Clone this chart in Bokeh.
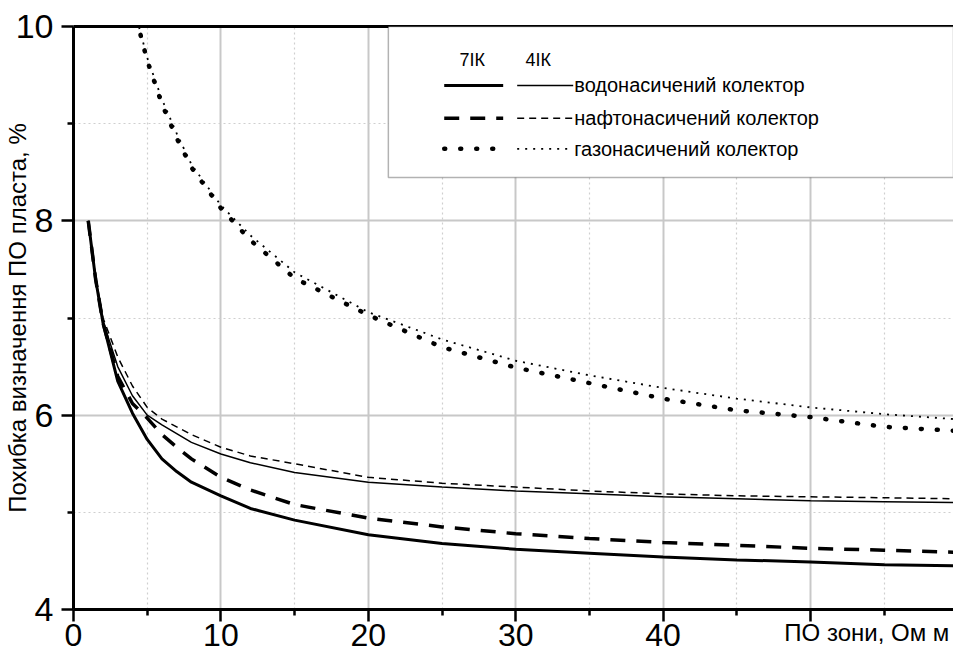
import math
from bokeh.plotting import figure
from bokeh.models import Range1d, FixedTicker, LinearAxis, BoxAnnotation, Label
from bokeh.embed import file_html
from bokeh.resources import INLINE

# ---- data ----
x_main = [1, 1.5, 2, 3, 4, 5, 6, 7, 8, 10, 12, 15, 20, 25, 30, 35, 40, 45, 50, 55, 59.7]
water_7ik = [8.0, 7.4, 6.95, 6.35, 6.02, 5.75, 5.55, 5.42, 5.31, 5.17, 5.04, 4.92, 4.77, 4.68, 4.62, 4.58, 4.54, 4.51, 4.49, 4.46, 4.45]
water_4ik = [8.0, 7.4, 6.97, 6.5, 6.2, 6.0, 5.9, 5.81, 5.72, 5.6, 5.51, 5.41, 5.31, 5.26, 5.22, 5.19, 5.16, 5.14, 5.12, 5.11, 5.10]
oil_7ik = [8.0, 7.4, 6.95, 6.4, 6.12, 5.97, 5.8, 5.67, 5.55, 5.36, 5.23, 5.08, 4.94, 4.85, 4.78, 4.73, 4.69, 4.66, 4.63, 4.61, 4.59]
oil_4ik = [8.0, 7.42, 7.0, 6.6, 6.3, 6.08, 5.96, 5.88, 5.8, 5.67, 5.58, 5.5, 5.36, 5.3, 5.26, 5.22, 5.19, 5.17, 5.16, 5.15, 5.14]
x_gas = [4.0, 4.4, 5, 6, 7, 8, 10, 12, 15, 20, 25, 30, 35, 40, 45, 50, 55, 59.7]
gas_7ik = [10.4, 10.0, 9.65, 9.2, 8.85, 8.55, 8.13, 7.8, 7.41, 7.03, 6.70, 6.49, 6.33, 6.17, 6.05, 5.98, 5.88, 5.84]
gas_4ik = [10.4, 10.02, 9.68, 9.25, 8.9, 8.58, 8.16, 7.85, 7.47, 7.06, 6.78, 6.56, 6.41, 6.28, 6.17, 6.08, 6.01, 5.96]

x_ticks = [0, 10, 20, 30, 40, 50]
x_minor = [5, 15, 25, 35, 45, 55]
y_ticks = [4, 6, 8, 10]
y_minor = [5, 7, 9]

legend_headers = ["7ІК", "4ІК"]
legend_labels = ["водонасичений колектор", "нафтонасичений колектор", "газонасичений колектор"]
x_title = "ПО зони, Ом м"
y_title = "Похибка визначення ПО пласта, %"

FONT = "Liberation Sans"
H = 657

p = figure(width=953, height=H, output_backend="svg", toolbar_location=None,
           x_range=Range1d(0, 59.7), y_range=Range1d(4, 10),
           min_border_left=72, min_border_right=0, min_border_top=26, min_border_bottom=48)
p.outline_line_color = None
p.background_fill_color = "white"

# axes
for ax in (p.xaxis[0], p.yaxis[0]):
    ax.axis_line_width = 3
    ax.axis_line_color = "black"
    ax.major_tick_line_width = 2.5
    ax.minor_tick_line_width = 2.5
    ax.major_tick_in = 0
    ax.minor_tick_in = 0
    ax.major_tick_out = 12
    ax.minor_tick_out = 6
    ax.major_label_text_font = FONT
    ax.major_label_text_color = "black"
    ax.axis_label_text_font = FONT
    ax.axis_label_text_font_size = "24px"
    ax.axis_label_text_font_style = "normal"
    ax.axis_label_text_color = "black"

p.xaxis.major_label_text_font_size = "32px"
p.yaxis.major_label_text_font_size = "34px"
p.xaxis.ticker = FixedTicker(ticks=x_ticks, minor_ticks=x_minor)
p.yaxis.ticker = FixedTicker(ticks=y_ticks, minor_ticks=y_minor)
p.xaxis.major_label_overrides = {50: ""}
p.xaxis.major_label_standoff = 2
p.yaxis.major_label_standoff = 8

# y-axis title overlapping the tick label column, as in the reference
p.yaxis.axis_label = y_title
p.yaxis.axis_label_standoff = -18

# x-axis title in the tick-label row at the right end; the label is centred on the
# frame's end, so trailing no-break spaces shift the visible words left of the edge
p.xaxis.axis_label = x_title + "\u00a0" * 26
p.xaxis.axis_label_standoff = -30
p.xaxis[0].axis_label_align = "end"

top_axis = LinearAxis(ticker=FixedTicker(ticks=[]), major_label_text_font_size="0px",
                      axis_line_width=3, axis_line_color="black",
                      major_tick_out=0, minor_tick_out=0, major_tick_in=0, minor_tick_in=0)
p.add_layout(top_axis, "above")

# grids
for g in (p.xgrid[0], p.ygrid[0]):
    g.grid_line_color = "#c8c8c8"
    g.grid_line_width = 2
    g.minor_grid_line_color = "#cfcfcf"
    g.minor_grid_line_width = 1.2
    g.minor_grid_line_dash = "2 3"

# curves
p.line(x_main, water_7ik, line_color="black", line_width=3)
p.line(x_main, water_4ik, line_color="black", line_width=1.5)
p.line(x_main, oil_7ik, line_color="black", line_width=3.5, line_dash="15 11")
p.line(x_main, oil_4ik, line_color="black", line_width=1.5, line_dash="7 5")
p.line(x_gas, gas_7ik, line_color="black", line_width=4.5, line_dash="1 15", line_cap="round")
p.line(x_gas, gas_4ik, line_color="black", line_width=1.8, line_dash="2 6")

# legend box
p.add_layout(BoxAnnotation(left=21.36, bottom=8.446, fill_color="white", fill_alpha=1.0,
                           line_color="black", line_width=1.5))

row_y = [9.393, 9.056, 8.741]
thick_styles = [dict(line_width=3), dict(line_width=3.5, line_dash="15 11"),
                dict(line_width=4.5, line_dash="1 15", line_cap="round")]
thin_styles = [dict(line_width=1.5), dict(line_width=1.5, line_dash="7 5"),
               dict(line_width=1.8, line_dash="2 6")]
for ry, st1, st2, lab in zip(row_y, thick_styles, thin_styles, legend_labels):
    p.line([25.15, 29.15], [ry, ry], line_color="black", level="overlay", **st1)
    p.line([30.1, 33.9], [ry, ry], line_color="black", level="overlay", **st2)
    p.add_layout(Label(x=33.97, y=ry, text=lab, text_font=FONT, text_font_size="20px",
                       text_baseline="middle", text_align="left", text_color="black"))
for hx, h in zip([27.05, 31.53], legend_headers):
    p.add_layout(Label(x=hx, y=9.66, text=h, text_font=FONT, text_font_size="18px",
                       text_baseline="middle", text_align="center", text_color="black"))

open("out.html", "w").write(file_html(p, INLINE))
